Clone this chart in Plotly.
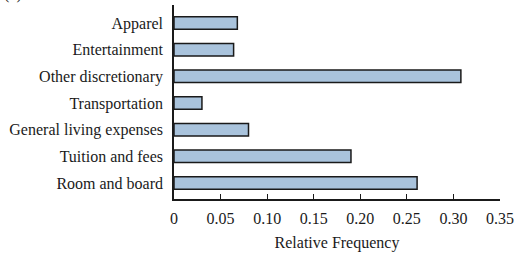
import plotly.graph_objects as go

categories = ["Room and board", "Tuition and fees", "General living expenses",
              "Transportation", "Other discretionary", "Entertainment", "Apparel"]
rel_freq = [0.261, 0.190, 0.080, 0.030, 0.308, 0.064, 0.068]
x_ticks = [0, 0.05, 0.10, 0.15, 0.20, 0.25, 0.30, 0.35]
x_tick_labels = ["0", "0.05", "0.10", "0.15", "0.20", "0.25", "0.30", "0.35"]

FONT = "Liberation Serif"

fig = go.Figure(go.Bar(
    y=categories, x=rel_freq, orientation="h", width=0.47,
    marker=dict(color="#a9c3dc", line=dict(color="#1a1a1a", width=1.5)),
))

fig.update_layout(
    width=516, height=258,
    margin=dict(l=174, r=16, t=5, b=59, autoexpand=False),
    paper_bgcolor="white", plot_bgcolor="white",
    font=dict(family=FONT, size=16, color="#1a1a1a"),
    showlegend=False,
    bargap=0.5,
)
fig.update_xaxes(
    range=[0, 0.35], tickvals=x_ticks, ticktext=x_tick_labels,
    ticks="inside", ticklen=5, tickwidth=1.2, tickcolor="#1a1a1a",
    showline=True, linecolor="#1a1a1a", linewidth=1.5,
    showgrid=False, zeroline=False, ticklabelstandoff=4, automargin=False,
    tickfont=dict(family=FONT, size=16),
    title=dict(text="Relative Frequency", font=dict(family=FONT, size=16), standoff=11),
)
fig.update_yaxes(
    categoryorder="array", categoryarray=categories,
    range=[-0.6, 6.675], automargin=False,
    showline=True, linecolor="#1a1a1a", linewidth=1.5,
    ticks="", showgrid=False, zeroline=False, ticklabelstandoff=6,
    tickfont=dict(family=FONT, size=16),
)
fig.add_annotation(
    text="(a)", xref="paper", yref="paper", x=-174/326, y=1,
    xanchor="left", yanchor="bottom", yshift=0, xshift=2, showarrow=False,
    font=dict(family=FONT, size=16),
)

fig.write_html(
    "out.html",
    config={"displayModeBar": False},
    post_script="document.body.style.margin='0';document.body.style.overflow='hidden';",
)
